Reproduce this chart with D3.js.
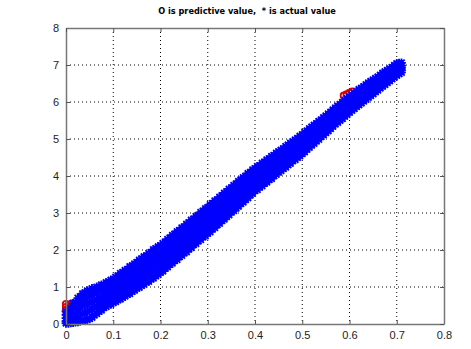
<!DOCTYPE html>
<html>
<head>
<meta charset="utf-8">
<script src="https://cdn.jsdelivr.net/npm/d3@7"></script>
<style>
  body { margin: 0; background: #fff; }
  svg { display: block; }
</style>
</head>
<body>
<div id="chart-area"></div>
<script>
// Chart values
const titleText = "O is predictive value,  * is actual value";
const xTicks = [0, 0.1, 0.2, 0.3, 0.4, 0.5, 0.6, 0.7, 0.8];
const yTicks = [0, 1, 2, 3, 4, 5, 6, 7, 8];

// actual values (blue *): one x per column, five y values in each column
const actualX = [0.00, 0.01, 0.02, 0.03, 0.04, 0.05, 0.06, 0.07, 0.08, 0.09,
  0.10, 0.11, 0.12, 0.13, 0.14, 0.15, 0.16, 0.17, 0.18, 0.19,
  0.20, 0.21, 0.22, 0.23, 0.24, 0.25, 0.26, 0.27, 0.28, 0.29,
  0.30, 0.31, 0.32, 0.33, 0.34, 0.35, 0.36, 0.37, 0.38, 0.39,
  0.40, 0.41, 0.42, 0.43, 0.44, 0.45, 0.46, 0.47, 0.48, 0.49,
  0.50, 0.51, 0.52, 0.53, 0.54, 0.55, 0.56, 0.57, 0.58, 0.59,
  0.60, 0.61, 0.62, 0.63, 0.64, 0.65, 0.66, 0.67, 0.68, 0.69,
  0.70, 0.71];
const actualY = [
  [0.02, 0.08, 0.16, 0.25, 0.34], [0.03, 0.12, 0.22, 0.32, 0.42],
  [0.05, 0.18, 0.32, 0.45, 0.58], [0.08, 0.25, 0.44, 0.60, 0.74],
  [0.10, 0.30, 0.52, 0.70, 0.84], [0.14, 0.36, 0.57, 0.76, 0.90],
  [0.24, 0.44, 0.63, 0.82, 0.95], [0.34, 0.52, 0.70, 0.87, 1.00],
  [0.44, 0.60, 0.76, 0.92, 1.06], [0.52, 0.68, 0.83, 0.99, 1.14],
  [0.58, 0.74, 0.89, 1.05, 1.20], [0.66, 0.82, 0.98, 1.14, 1.30],
  [0.72, 0.89, 1.06, 1.23, 1.40], [0.80, 0.98, 1.15, 1.32, 1.48],
  [0.88, 1.06, 1.23, 1.40, 1.57], [0.97, 1.14, 1.32, 1.49, 1.67],
  [1.04, 1.22, 1.40, 1.58, 1.76], [1.13, 1.31, 1.49, 1.67, 1.84],
  [1.21, 1.40, 1.58, 1.76, 1.94], [1.30, 1.48, 1.67, 1.85, 2.04],
  [1.39, 1.58, 1.76, 1.94, 2.12], [1.50, 1.68, 1.86, 2.04, 2.22],
  [1.61, 1.79, 1.97, 2.15, 2.33], [1.71, 1.89, 2.07, 2.25, 2.43],
  [1.81, 1.99, 2.17, 2.35, 2.53], [1.92, 2.10, 2.28, 2.46, 2.63],
  [2.02, 2.20, 2.38, 2.56, 2.74], [2.14, 2.32, 2.49, 2.66, 2.84],
  [2.24, 2.42, 2.59, 2.77, 2.94], [2.35, 2.52, 2.70, 2.88, 3.05],
  [2.45, 2.63, 2.80, 2.98, 3.15], [2.56, 2.74, 2.91, 3.09, 3.26],
  [2.68, 2.85, 3.02, 3.19, 3.36], [2.79, 2.96, 3.13, 3.30, 3.47],
  [2.90, 3.07, 3.24, 3.41, 3.58], [3.02, 3.18, 3.35, 3.52, 3.68],
  [3.13, 3.29, 3.46, 3.63, 3.79], [3.25, 3.41, 3.57, 3.73, 3.90],
  [3.36, 3.52, 3.68, 3.84, 4.00], [3.48, 3.63, 3.79, 3.95, 4.10],
  [3.60, 3.75, 3.90, 4.05, 4.20], [3.70, 3.84, 3.99, 4.14, 4.28],
  [3.80, 3.94, 4.09, 4.24, 4.38], [3.90, 4.04, 4.19, 4.34, 4.47],
  [4.00, 4.14, 4.28, 4.42, 4.56], [4.10, 4.24, 4.38, 4.52, 4.66],
  [4.20, 4.33, 4.47, 4.61, 4.74], [4.30, 4.43, 4.57, 4.70, 4.84],
  [4.41, 4.54, 4.67, 4.80, 4.93], [4.50, 4.63, 4.76, 4.89, 5.02],
  [4.60, 4.73, 4.86, 4.99, 5.12], [4.72, 4.85, 4.97, 5.09, 5.22],
  [4.83, 4.96, 5.08, 5.20, 5.33], [4.94, 5.06, 5.18, 5.30, 5.42],
  [5.06, 5.17, 5.29, 5.41, 5.52], [5.17, 5.28, 5.40, 5.52, 5.63],
  [5.28, 5.40, 5.51, 5.62, 5.73], [5.40, 5.51, 5.62, 5.73, 5.84],
  [5.50, 5.61, 5.72, 5.83, 5.94], [5.61, 5.72, 5.83, 5.94, 6.05],
  [5.72, 5.83, 5.94, 6.05, 6.14], [5.82, 5.92, 6.03, 6.14, 6.24],
  [5.92, 6.02, 6.13, 6.24, 6.34], [6.02, 6.12, 6.22, 6.32, 6.42],
  [6.12, 6.22, 6.32, 6.42, 6.52], [6.22, 6.31, 6.41, 6.51, 6.60],
  [6.32, 6.41, 6.50, 6.59, 6.68], [6.42, 6.51, 6.60, 6.69, 6.78],
  [6.52, 6.61, 6.69, 6.77, 6.86], [6.62, 6.70, 6.78, 6.86, 6.94],
  [6.72, 6.80, 6.88, 6.96, 7.04], [6.80, 6.86, 6.92, 6.98, 7.06]
];

// more actual values, in the columns between the ones above
const actualX2 = [0.005, 0.015, 0.025, 0.035, 0.045, 0.055, 0.065, 0.075, 0.085, 0.095,
  0.105, 0.115, 0.125, 0.135, 0.145, 0.155, 0.165, 0.175, 0.185, 0.195,
  0.205, 0.215, 0.225, 0.235, 0.245, 0.255, 0.265, 0.275, 0.285, 0.295,
  0.305, 0.315, 0.325, 0.335, 0.345, 0.355, 0.365, 0.375, 0.385, 0.395,
  0.405, 0.415, 0.425, 0.435, 0.445, 0.455, 0.465, 0.475, 0.485, 0.495,
  0.505, 0.515, 0.525, 0.535, 0.545, 0.555, 0.565, 0.575, 0.585, 0.595,
  0.605, 0.615, 0.625, 0.635, 0.645, 0.655, 0.665, 0.675, 0.685, 0.695,
  0.705];
const actualY2 = [
  [0.02, 0.10, 0.19, 0.28, 0.36], [0.04, 0.17, 0.30, 0.44, 0.56],
  [0.06, 0.22, 0.40, 0.56, 0.70], [0.09, 0.28, 0.48, 0.66, 0.82],
  [0.12, 0.33, 0.54, 0.74, 0.90], [0.18, 0.40, 0.60, 0.80, 0.96],
  [0.28, 0.48, 0.66, 0.84, 1.00], [0.37, 0.55, 0.73, 0.90, 1.06],
  [0.47, 0.64, 0.80, 0.96, 1.12], [0.53, 0.71, 0.86, 1.02, 1.19],
  [0.60, 0.78, 0.94, 1.10, 1.27], [0.67, 0.85, 1.02, 1.19, 1.37],
  [0.75, 0.93, 1.10, 1.28, 1.45], [0.82, 1.01, 1.19, 1.36, 1.55],
  [0.91, 1.10, 1.28, 1.45, 1.63], [0.99, 1.18, 1.36, 1.54, 1.73],
  [1.07, 1.26, 1.44, 1.63, 1.82], [1.15, 1.35, 1.54, 1.72, 1.91],
  [1.24, 1.44, 1.62, 1.81, 2.01], [1.33, 1.53, 1.72, 1.90, 2.09],
  [1.43, 1.63, 1.81, 1.99, 2.18], [1.54, 1.73, 1.92, 2.10, 2.29],
  [1.64, 1.84, 2.02, 2.20, 2.40], [1.74, 1.94, 2.12, 2.30, 2.50],
  [1.85, 2.04, 2.23, 2.41, 2.60], [1.95, 2.15, 2.33, 2.51, 2.70],
  [2.06, 2.26, 2.44, 2.61, 2.81], [2.17, 2.37, 2.54, 2.72, 2.91],
  [2.28, 2.47, 2.65, 2.83, 3.02], [2.38, 2.58, 2.75, 2.93, 3.12],
  [2.49, 2.68, 2.86, 3.04, 3.23], [2.60, 2.79, 2.97, 3.14, 3.33],
  [2.72, 2.90, 3.08, 3.25, 3.43], [2.83, 3.01, 3.19, 3.36, 3.54],
  [2.95, 3.13, 3.30, 3.47, 3.65], [3.06, 3.24, 3.41, 3.58, 3.75],
  [3.18, 3.35, 3.52, 3.68, 3.86], [3.29, 3.47, 3.63, 3.79, 3.96],
  [3.41, 3.58, 3.74, 3.90, 4.07], [3.53, 3.69, 3.85, 4.00, 4.17],
  [3.63, 3.79, 3.95, 4.10, 4.26], [3.73, 3.89, 4.04, 4.19, 4.35],
  [3.83, 3.99, 4.14, 4.29, 4.44], [3.93, 4.09, 4.24, 4.38, 4.53],
  [4.04, 4.19, 4.33, 4.47, 4.62], [4.14, 4.28, 4.43, 4.56, 4.70],
  [4.24, 4.38, 4.52, 4.66, 4.80], [4.34, 4.48, 4.62, 4.75, 4.89],
  [4.44, 4.58, 4.72, 4.84, 4.98], [4.54, 4.68, 4.81, 4.94, 5.08],
  [4.65, 4.79, 4.92, 5.04, 5.18], [4.77, 4.90, 5.02, 5.14, 5.28],
  [4.88, 5.01, 5.13, 5.25, 5.38], [4.99, 5.12, 5.24, 5.35, 5.48],
  [5.11, 5.23, 5.35, 5.46, 5.58], [5.22, 5.34, 5.45, 5.57, 5.68],
  [5.34, 5.45, 5.56, 5.67, 5.79], [5.45, 5.56, 5.67, 5.78, 5.89],
  [5.55, 5.66, 5.77, 5.88, 5.99], [5.66, 5.77, 5.88, 5.99, 6.09],
  [5.77, 5.87, 5.98, 6.09, 6.19], [5.87, 5.97, 6.08, 6.19, 6.29],
  [5.97, 6.07, 6.17, 6.28, 6.38], [6.07, 6.17, 6.27, 6.37, 6.47],
  [6.17, 6.27, 6.36, 6.46, 6.56], [6.27, 6.36, 6.45, 6.55, 6.64],
  [6.37, 6.46, 6.55, 6.64, 6.73], [6.47, 6.56, 6.64, 6.73, 6.82],
  [6.57, 6.65, 6.73, 6.82, 6.90], [6.67, 6.75, 6.83, 6.91, 6.99],
  [6.76, 6.83, 6.90, 6.97, 7.05]
];

// predictive values (red o), mostly hidden under the actual values
const predX = [0.000, 0.000, 0.000, 0.006, 0.006, 0.012, 0.012, 0.018, 0.022,
  0.05, 0.10, 0.15, 0.20, 0.25, 0.30, 0.35, 0.40, 0.45, 0.50, 0.55,
  0.588, 0.594, 0.600, 0.606, 0.65, 0.70];
const predY = [0.38, 0.46, 0.54, 0.42, 0.52, 0.45, 0.55, 0.50, 0.56,
  0.55, 0.90, 1.32, 1.76, 2.28, 2.80, 3.35, 3.90, 4.38, 4.86, 5.40,
  6.17, 6.21, 6.25, 6.28, 6.41, 6.88];

const margin = { left: 66, right: 27, top: 28, bottom: 25 },
    width = 471 - margin.left - margin.right,
    height = 349 - margin.top - margin.bottom;

const svg = d3.select("#chart-area").append("svg")
    .attr("width", 471)
    .attr("height", 349);

const g = svg.append("g")
    .attr("transform", "translate(" + margin.left + "," + margin.top + ")");

const x = d3.scaleLinear().domain([0, 0.8]).range([0, width]);
const y = d3.scaleLinear().domain([0, 8]).range([height, 0]);

// dotted grid
g.append("g").selectAll("line")
    .data(xTicks.slice(1, -1))
    .enter().append("line")
    .attr("x1", d => x(d)).attr("x2", d => x(d))
    .attr("y1", 0).attr("y2", height)
    .attr("stroke", "#000").attr("stroke-width", 1)
    .attr("stroke-dasharray", "1,3");
g.append("g").selectAll("line")
    .data(yTicks.slice(1, -1))
    .enter().append("line")
    .attr("x1", 0).attr("x2", width)
    .attr("y1", d => y(d)).attr("y2", d => y(d))
    .attr("stroke", "#000").attr("stroke-width", 1)
    .attr("stroke-dasharray", "1,3");

// predictive points first
const pts = g.append("g");
const predData = predX.map((v, i) => [v, predY[i]]);
pts.selectAll("circle")
    .data(predData)
    .enter().append("circle")
    .attr("cx", d => x(d[0]))
    .attr("cy", d => y(d[1]))
    .attr("r", 3.2)
    .attr("fill", "none")
    .attr("stroke", "#e00000")
    .attr("stroke-width", 1.8);

// actual points on top as asterisks
const actualData = [];
actualX.forEach((v, i) => {
    actualY[i].forEach(yy => actualData.push([v, yy]));
});
actualX2.forEach((v, i) => {
    actualY2[i].forEach(yy => actualData.push([v, yy]));
});
const r = 4.4, dd = r * 0.72;
const star = "M" + (-r) + ",0H" + r + "M0," + (-r) + "V" + r +
    "M" + (-dd) + "," + (-dd) + "L" + dd + "," + dd +
    "M" + (-dd) + "," + dd + "L" + dd + "," + (-dd);
pts.append("g").selectAll("path")
    .data(actualData)
    .enter().append("path")
    .attr("transform", d => "translate(" + x(d[0]) + "," + y(d[1]) + ")")
    .attr("d", star)
    .attr("fill", "none")
    .attr("stroke", "#0000ff")
    .attr("stroke-width", 1.8);

// axes with inward ticks, MATLAB-like box
const xAxis = g.append("g")
    .attr("transform", "translate(0," + height + ")")
    .call(d3.axisBottom(x).tickValues(xTicks).tickSizeInner(-4).tickSizeOuter(0)
        .tickPadding(7).tickFormat(d3.format("")));
const yAxis = g.append("g")
    .call(d3.axisLeft(y).tickValues(yTicks).tickSizeInner(-4).tickSizeOuter(0)
        .tickPadding(7).tickFormat(d3.format("")));
const xTop = g.append("g")
    .call(d3.axisTop(x).tickValues(xTicks).tickSizeInner(-4).tickSizeOuter(0)
        .tickFormat(""));
const yRight = g.append("g")
    .attr("transform", "translate(" + width + ",0)")
    .call(d3.axisRight(y).tickValues(yTicks).tickSizeInner(-4).tickSizeOuter(0)
        .tickFormat(""));

[xAxis, yAxis, xTop, yRight].forEach(a => {
    a.select(".domain").attr("stroke", "#777").attr("stroke-width", 1.5);
    a.selectAll(".tick line").attr("stroke", "#555");
    a.selectAll("text")
        .attr("fill", "#222")
        .style("font-family", "'Liberation Sans', Arial, sans-serif")
        .style("font-size", "11px");
});

// title
svg.append("text")
    .attr("x", 247)
    .attr("y", 14)
    .attr("text-anchor", "middle")
    .style("white-space", "pre")
    .style("font-family", "'DejaVu Sans', Verdana, sans-serif")
    .style("font-weight", "bold")
    .style("font-size", "8.2px")
    .attr("fill", "#000")
    .text(titleText);
</script>
</body>
</html>
